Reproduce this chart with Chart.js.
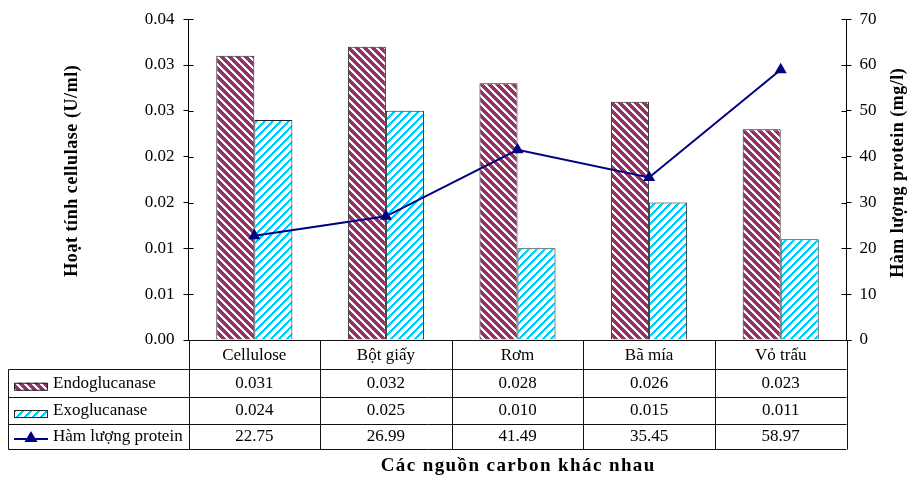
<!DOCTYPE html>
<html lang="vi">
<head>
<meta charset="utf-8">
<title>Hoạt tính cellulase và hàm lượng protein</title>
<script src="https://cdn.jsdelivr.net/npm/chart.js@4/dist/chart.umd.min.js"></script>
<style>
  html, body { margin: 0; padding: 0; background: #ffffff; }
  #chart { display: block; }
</style>
</head>
<body>
<canvas id="chart" width="911" height="479"></canvas>
<script>
// Carbon sources and measured values
const categories = ['Cellulose', 'Bột giấy', 'Rơm', 'Bã mía', 'Vỏ trấu'];
const endoglucanase = [0.031, 0.032, 0.028, 0.026, 0.023];
const exoglucanase = [0.024, 0.025, 0.010, 0.015, 0.011];
const protein = [22.75, 26.99, 41.49, 35.45, 58.97];

// Axis ticks
const leftTickValues = [0, 0.005, 0.010, 0.015, 0.020, 0.025, 0.030, 0.035];
const leftTickLabels = ['0.00', '0.01', '0.01', '0.02', '0.02', '0.03', '0.03', '0.04'];
const rightTickValues = [0, 10, 20, 30, 40, 50, 60, 70];
const rightTickLabels = ['0', '10', '20', '30', '40', '50', '60', '70'];

// Series names and titles
const seriesNames = ['Endoglucanase', 'Exoglucanase', 'Hàm lượng protein'];
const leftTitle = 'Hoạt tính cellulase (U/ml)';
const rightTitle = 'Hàm lượng protein (mg/l)';
const bottomTitle = 'Các nguồn carbon khác nhau';

const SERIF = '"Liberation Serif", "Times New Roman", serif';
const ENDO_COLOR = [153, 51, 102];
const EXO_COLOR = [0, 204, 255];
const LINE_COLOR = '#000080';

const canvas = document.getElementById('chart');
const ctx = canvas.getContext('2d');

// Diagonal hatch tile: dir > 0 gives "/" stripes, dir < 0 gives "\" stripes
function stripePattern(bg, fg, dir) {
  const size = 8;
  const tile = document.createElement('canvas');
  tile.width = tile.height = size;
  const g = tile.getContext('2d');
  const img = g.createImageData(size, size);
  for (let y = 0; y < size; y++) {
    for (let x = 0; x < size; x++) {
      const k = (((dir > 0 ? x + y : x - y) % size) + size) % size;
      const c = k < 3 ? fg : bg;
      const i = (y * size + x) * 4;
      img.data[i] = c[0]; img.data[i + 1] = c[1]; img.data[i + 2] = c[2]; img.data[i + 3] = 255;
    }
  }
  g.putImageData(img, 0, 0);
  return ctx.createPattern(tile, 'repeat');
}

const endoFill = stripePattern(ENDO_COLOR, [255, 255, 255], -1);
const exoFill = stripePattern([255, 255, 255], EXO_COLOR, 1);

// Text drawn with letter spacing so that it spans a given length
function spacedText(g, text, cx, cy, length, rotate) {
  g.save();
  g.translate(cx, cy);
  if (rotate) g.rotate(-Math.PI / 2);
  g.letterSpacing = '0px';
  const natural = g.measureText(text).width;
  const gap = Math.max(0, (length - natural) / text.length);
  g.letterSpacing = gap.toFixed(2) + 'px';
  g.textAlign = 'center';
  g.textBaseline = 'middle';
  g.fillText(text, gap / 2, 0);
  g.restore();
}

// Data table under the plot, axis ticks crossing the axes, and axis titles
const tablePlugin = {
  id: 'dataTable',
  afterDraw(chart) {
    const g = chart.ctx;
    const area = chart.chartArea;
    const xs = chart.scales.x;
    const yl = chart.scales.y;
    const yr = chart.scales.y1;
    const n = categories.length;
    const colW = (xs.right - xs.left) / n;
    const colX = i => xs.left + i * colW;
    const legendLeft = 8.5;
    const rows = [area.bottom, area.bottom + 29, area.bottom + 56.5, area.bottom + 83.5, area.bottom + 108.5];

    g.save();
    g.strokeStyle = '#000000';
    g.lineWidth = 1;

    // inner halves of the tick marks
    g.beginPath();
    yl.ticks.forEach(t => {
      const y = Math.round(yl.getPixelForValue(t.value)) + 0.5;
      g.moveTo(area.left, y); g.lineTo(area.left + 5, y);
    });
    yr.ticks.forEach(t => {
      const y = Math.round(yr.getPixelForValue(t.value)) + 0.5;
      g.moveTo(area.right - 5, y); g.lineTo(area.right, y);
    });
    g.stroke();

    // table grid
    g.strokeStyle = '#111111';
    g.beginPath();
    g.moveTo(area.left, rows[0] + 0.5); g.lineTo(area.right + 5, rows[0] + 0.5);
    for (let r = 1; r < rows.length; r++) {
      const y = Math.round(rows[r]) + 0.5;
      g.moveTo(legendLeft, y); g.lineTo(area.right, y);
    }
    for (let i = 0; i <= n; i++) {
      const x = Math.round(colX(i)) + 0.5;
      g.moveTo(x, rows[0]); g.lineTo(x, Math.round(rows[4]) + 0.5);
    }
    g.moveTo(legendLeft, Math.round(rows[1]) + 0.5); g.lineTo(legendLeft, Math.round(rows[4]) + 0.5);
    g.stroke();

    // table text
    g.fillStyle = '#000000';
    g.font = '17px ' + SERIF;
    g.textAlign = 'center';
    g.textBaseline = 'middle';
    const rowMid = r => (rows[r] + rows[r + 1]) / 2 + 1;
    categories.forEach((c, i) => {
      const cx = colX(i) + colW / 2;
      g.fillText(c, cx, rowMid(0));
      g.fillText(endoglucanase[i].toFixed(3), cx, rowMid(1));
      g.fillText(exoglucanase[i].toFixed(3), cx, rowMid(2));
      g.fillText(protein[i].toFixed(2), cx, rowMid(3));
    });

    // legend keys
    g.textAlign = 'left';
    const keyL = 14, keyR = 48;
    [endoFill, exoFill].forEach((fill, k) => {
      const top = rowMid(k + 1) - 1;
      g.fillStyle = fill;
      g.fillRect(keyL, top, keyR - keyL, 8);
      g.strokeStyle = '#222222';
      g.strokeRect(keyL + 0.5, top + 0.5, keyR - keyL - 1, 7);
    });
    const ly = rowMid(3) + 2;
    g.strokeStyle = LINE_COLOR;
    g.lineWidth = 2;
    g.beginPath(); g.moveTo(keyL, ly); g.lineTo(keyR, ly); g.stroke();
    g.fillStyle = LINE_COLOR;
    g.beginPath();
    g.moveTo(31, ly - 8); g.lineTo(37.5, ly + 3); g.lineTo(24.5, ly + 3); g.closePath();
    g.fill();
    g.fillStyle = '#000000';
    seriesNames.forEach((s, k) => g.fillText(s, 53, rowMid(k + 1)));

    // axis titles
    g.font = 'bold 18px ' + SERIF;
    spacedText(g, leftTitle, 72, 171, 212, true);
    spacedText(g, rightTitle, 898, 173, 210, true);
    g.font = 'bold 19px ' + SERIF;
    spacedText(g, bottomTitle, (area.left + area.right) / 2, 466, 275, false);
    g.restore();
  }
};

new Chart(ctx, {
  type: 'bar',
  data: {
    labels: categories,
    datasets: [
      {
        type: 'line',
        label: seriesNames[2],
        data: protein,
        yAxisID: 'y1',
        borderColor: LINE_COLOR,
        backgroundColor: LINE_COLOR,
        borderWidth: 2,
        pointStyle: 'triangle',
        pointRadius: 7,
        pointBorderWidth: 0,
        pointBackgroundColor: LINE_COLOR,
        tension: 0,
        order: 0
      },
      {
        label: seriesNames[0],
        data: endoglucanase,
        yAxisID: 'y',
        backgroundColor: endoFill,
        borderColor: '#222222',
        borderWidth: 1,
        categoryPercentage: 0.578,
        barPercentage: 1,
        order: 1
      },
      {
        label: seriesNames[1],
        data: exoglucanase,
        yAxisID: 'y',
        backgroundColor: exoFill,
        borderColor: '#222222',
        borderWidth: 1,
        categoryPercentage: 0.578,
        barPercentage: 1,
        order: 1
      }
    ]
  },
  options: {
    responsive: false,
    animation: false,
    events: [],
    layout: { padding: { top: 15, bottom: 139, left: 0, right: 0 } },
    plugins: { legend: { display: false }, tooltip: { enabled: false } },
    scales: {
      x: { type: 'category', display: false, offset: true },
      y: {
        position: 'left',
        min: 0,
        max: 0.035,
        afterBuildTicks: s => { s.ticks = leftTickValues.map(v => ({ value: v })); },
        afterFit: s => { s.width = 188.5; },
        ticks: {
          callback: (v, i) => leftTickLabels[i],
          color: '#000000',
          font: { family: SERIF, size: 17 },
          padding: 9
        },
        grid: { drawOnChartArea: false, tickLength: 5, color: '#000000' },
        border: { color: '#000000', width: 1 }
      },
      y1: {
        position: 'right',
        min: 0,
        max: 70,
        afterBuildTicks: s => { s.ticks = rightTickValues.map(v => ({ value: v })); },
        afterFit: s => { s.width = 64.5; },
        ticks: {
          callback: (v, i) => rightTickLabels[i],
          color: '#000000',
          font: { family: SERIF, size: 17 },
          padding: 8
        },
        grid: { drawOnChartArea: false, tickLength: 5, color: '#000000' },
        border: { color: '#000000', width: 1 }
      }
    }
  },
  plugins: [tablePlugin]
});
</script>
</body>
</html>
